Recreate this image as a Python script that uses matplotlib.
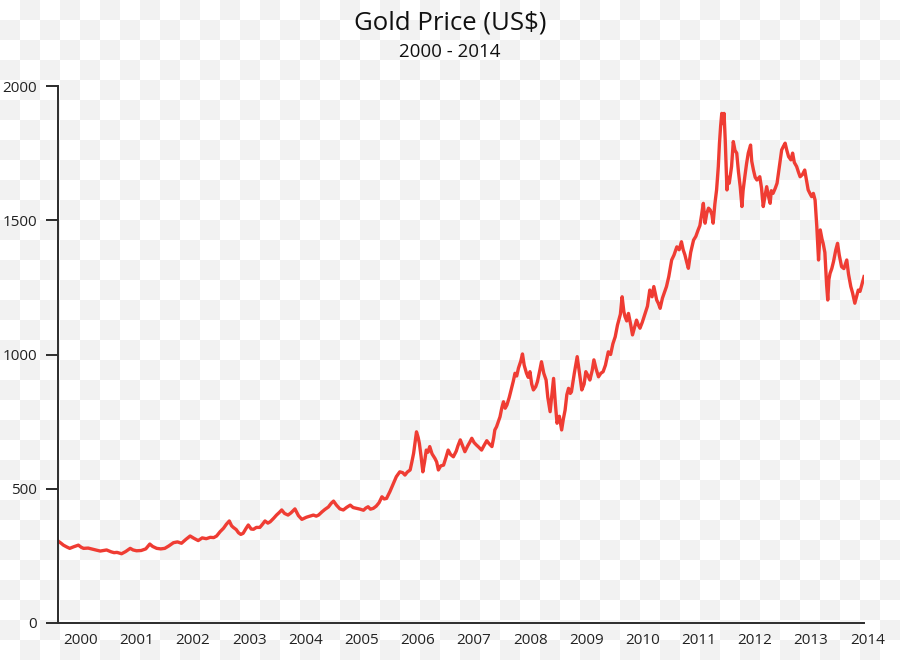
import numpy as np
import matplotlib
matplotlib.use("Agg")
import matplotlib.pyplot as plt
import matplotlib.transforms as mtransforms

# Gold price (decimal year, US$)
years = [
    2000.16, 2000.21, 2000.25, 2000.31, 2000.36, 2000.43, 2000.51, 2000.56, 2000.60, 2000.68,
    2000.77, 2000.83, 2000.89, 2000.95, 2001.00, 2001.08, 2001.13, 2001.18, 2001.26, 2001.33,
    2001.41, 2001.46, 2001.52, 2001.60, 2001.68, 2001.75, 2001.80, 2001.87, 2001.94, 2002.01,
    2002.08, 2002.16, 2002.23, 2002.30, 2002.38, 2002.45, 2002.52, 2002.59, 2002.66, 2002.73,
    2002.80, 2002.86, 2002.91, 2002.97, 2003.03, 2003.08, 2003.13, 2003.17, 2003.20, 2003.25,
    2003.29, 2003.33, 2003.37, 2003.42, 2003.46, 2003.51, 2003.55, 2003.60, 2003.66, 2003.70,
    2003.75, 2003.80, 2003.84, 2003.90, 2003.95, 2004.00, 2004.04, 2004.09, 2004.15, 2004.20,
    2004.27, 2004.33, 2004.39, 2004.43, 2004.47, 2004.53, 2004.59, 2004.64, 2004.68, 2004.74,
    2004.79, 2004.85, 2004.90, 2004.94, 2004.99, 2005.05, 2005.11, 2005.17, 2005.23, 2005.28,
    2005.34, 2005.40, 2005.46, 2005.50, 2005.54, 2005.58, 2005.63, 2005.68, 2005.73, 2005.78,
    2005.82, 2005.86, 2005.92, 2005.98, 2006.03, 2006.09, 2006.14, 2006.18, 2006.22, 2006.27,
    2006.30, 2006.33, 2006.36, 2006.38, 2006.41, 2006.43, 2006.46, 2006.49, 2006.52, 2006.55,
    2006.58, 2006.61, 2006.65, 2006.70, 2006.73, 2006.76, 2006.80, 2006.85, 2006.89, 2006.93,
    2006.97, 2007.02, 2007.07, 2007.10, 2007.14, 2007.18, 2007.22, 2007.27, 2007.31, 2007.34,
    2007.38, 2007.42, 2007.46, 2007.51, 2007.55, 2007.60, 2007.64, 2007.69, 2007.72, 2007.74,
    2007.77, 2007.80, 2007.83, 2007.86, 2007.89, 2007.92, 2007.95, 2007.99, 2008.03, 2008.06,
    2008.09, 2008.12, 2008.15, 2008.19, 2008.22, 2008.25, 2008.29, 2008.32, 2008.35, 2008.38,
    2008.41, 2008.45, 2008.48, 2008.52, 2008.55, 2008.59, 2008.63, 2008.66, 2008.70, 2008.73,
    2008.76, 2008.79, 2008.82, 2008.86, 2008.90, 2008.93, 2008.96, 2008.99, 2009.02, 2009.05,
    2009.07, 2009.12, 2009.17, 2009.21, 2009.25, 2009.29, 2009.32, 2009.36, 2009.39, 2009.43,
    2009.46, 2009.50, 2009.54, 2009.58, 2009.62, 2009.66, 2009.71, 2009.75, 2009.79, 2009.83,
    2009.87, 2009.92, 2009.95, 2009.98, 2010.00, 2010.03, 2010.06, 2010.10, 2010.13, 2010.17,
    2010.20, 2010.23, 2010.26, 2010.30, 2010.35, 2010.39, 2010.43, 2010.47, 2010.50, 2010.55,
    2010.58, 2010.61, 2010.65, 2010.69, 2010.72, 2010.76, 2010.81, 2010.85, 2010.90, 2010.94,
    2010.98, 2011.01, 2011.04, 2011.07, 2011.10, 2011.14, 2011.19, 2011.23, 2011.27, 2011.30,
    2011.33, 2011.36, 2011.39, 2011.42, 2011.45, 2011.48, 2011.51, 2011.53, 2011.56, 2011.59,
    2011.62, 2011.64, 2011.66, 2011.68, 2011.70, 2011.72, 2011.74, 2011.77, 2011.79, 2011.81,
    2011.85, 2011.88, 2011.91, 2011.94, 2011.97, 2012.00, 2012.03, 2012.05, 2012.08, 2012.11,
    2012.14, 2012.18, 2012.20, 2012.23, 2012.26, 2012.29, 2012.34, 2012.37, 2012.40, 2012.43,
    2012.46, 2012.49, 2012.52, 2012.54, 2012.57, 2012.61, 2012.64, 2012.68, 2012.72, 2012.75,
    2012.78, 2012.81, 2012.84, 2012.88, 2012.91, 2012.94, 2012.98, 2013.01, 2013.04, 2013.08,
    2013.12, 2013.15, 2013.18, 2013.21, 2013.24, 2013.27, 2013.30, 2013.33, 2013.36, 2013.39,
    2013.42, 2013.44, 2013.47, 2013.50, 2013.52, 2013.54, 2013.56, 2013.59, 2013.62, 2013.66,
    2013.69, 2013.72, 2013.76, 2013.80, 2013.85, 2013.88, 2013.92, 2013.95, 2013.99, 2014.02,
    2014.05, 2014.08, 2014.11, 2014.15,
]
prices = [
    305, 297, 290, 283, 278, 284, 290, 282, 278, 279,
    274, 271, 268, 270, 272, 265, 262, 263, 258, 266,
    278, 272, 269, 270, 276, 294, 285, 278, 276, 278,
    287, 299, 302, 297, 312, 324, 315, 307, 317, 314,
    319, 318, 324, 340, 353, 368, 380, 362, 356, 348,
    336, 330, 334, 352, 365, 350, 349, 356, 356, 366,
    380, 372, 377, 390, 402, 412, 421, 408, 402, 410,
    425, 400, 386, 390, 394, 398, 402, 398, 402, 414,
    423, 432, 446, 454, 439, 425, 421, 431, 439, 430,
    427, 424, 420, 428, 433, 424, 427, 435, 448, 470,
    462, 464, 490, 520, 545, 563, 560, 551, 562, 570,
    600, 632, 680, 712, 690, 669, 620, 563, 600, 644,
    636, 657, 630, 613, 600, 570, 585, 588, 615, 644,
    628, 619, 640, 660, 682, 660, 638, 660, 675, 688,
    672, 663, 655, 644, 660, 679, 668, 657, 690, 719,
    731, 750, 768, 800, 824, 800, 812, 840, 874, 900,
    930, 920, 949, 975, 1002, 960, 930, 915, 936, 890,
    868, 880, 899, 940, 973, 930, 905, 840, 787, 850,
    911, 820, 744, 770, 719, 760, 793, 850, 874, 855,
    861, 930, 992, 930, 868, 890, 936, 920, 905, 940,
    980, 945, 917, 930, 936, 960, 1010, 1000, 1040, 1066,
    1110, 1150, 1215, 1160, 1141, 1125, 1153, 1110, 1073, 1105,
    1128, 1110, 1098, 1120, 1153, 1180, 1240, 1215, 1253, 1203,
    1190, 1172, 1210, 1235, 1253, 1290, 1352, 1370, 1401, 1390,
    1420, 1390, 1371, 1345, 1321, 1380, 1426, 1440, 1464, 1480,
    1520, 1563, 1489, 1526, 1545, 1538, 1520, 1489, 1560, 1613,
    1700, 1787, 1850, 1898, 1860, 1898, 1799, 1613, 1660, 1638,
    1700, 1793, 1760, 1750, 1680, 1625, 1551, 1610, 1662, 1710,
    1750, 1780, 1720, 1687, 1660, 1650, 1662, 1620, 1551, 1590,
    1625, 1590, 1563, 1610, 1600, 1620, 1638, 1700, 1762, 1775,
    1787, 1760, 1737, 1725, 1750, 1715, 1700, 1680, 1662, 1670,
    1687, 1650, 1613, 1600, 1588, 1600, 1575, 1476, 1352, 1464,
    1430, 1414, 1380, 1260, 1203, 1280, 1302, 1320, 1346, 1390,
    1414, 1370, 1327, 1320, 1352, 1300, 1253, 1230, 1191, 1215,
    1240, 1235, 1259, 1290,
]

label_years = list(range(2000, 2015))
y_ticks = [0, 500, 1000, 1500, 2000]

LINE_COLOR = "#ef3c33"
AXIS_COLOR = "#2b2b2b"
plt.rcParams["font.family"] = ["Open Sans", "DejaVu Sans"]

W, H = 900, 660
fig = plt.figure(figsize=(W / 100, H / 100), dpi=100)

# faint checkerboard backdrop like the reference image
sq = 20
ii, jj = np.meshgrid(np.arange(W) // sq, np.arange(H) // sq)
checker = np.where((ii + jj) % 2 == 1, 0.95, 1.0)
fig.figimage(np.dstack([checker] * 3), xo=0, yo=0, origin="upper", zorder=-10)

# axes box in pixels: left spine x=58, right end x=864, zero at y=623, 2000 at y=86
ax = fig.add_axes([58 / W, 1 - 623 / H, (864 - 58) / W, (623 - 86) / H])
ax.patch.set_alpha(0)

# year scale of the trace: x_px = 49 + (year - 2000) * 57.6
def px_to_year(px):
    return 2000 + (px - 49) / 57.6

ax.plot(years, prices, color=LINE_COLOR, lw=2.4, solid_joinstyle="round")
ax.set_xlim(px_to_year(58), px_to_year(864))
ax.set_ylim(0, 2000)

for side in ["top", "right"]:
    ax.spines[side].set_visible(False)
for side in ["left", "bottom"]:
    ax.spines[side].set_color(AXIS_COLOR)
    ax.spines[side].set_linewidth(1.4)

ax.set_yticks(y_ticks)
ax.set_yticklabels([str(v) for v in y_ticks])
ax.tick_params(axis="y", direction="out", length=9, width=1.4, color=AXIS_COLOR,
               pad=6, labelsize=11, labelcolor="#222222")
ax.set_xticks([])

# year labels sit between ticks, evenly spaced (some run past the axis end)
trans = mtransforms.blended_transform_factory(ax.transData, ax.transAxes)
for i, yr in enumerate(label_years):
    ax.text(px_to_year(80.5 + 56.2 * i), -17 / (623 - 86), str(yr), transform=trans,
            ha="center", va="center", fontsize=11, color="#222222", clip_on=False)

fig.text(0.5, 1 - 23 / H, "Gold Price (US$)", ha="center", va="center",
         fontsize=18.5, color="#111111")
fig.text(0.5, 1 - 52 / H, "2000 - 2014", ha="center", va="center",
         fontsize=13.5, color="#111111")

fig.savefig("out.png", dpi=100)
